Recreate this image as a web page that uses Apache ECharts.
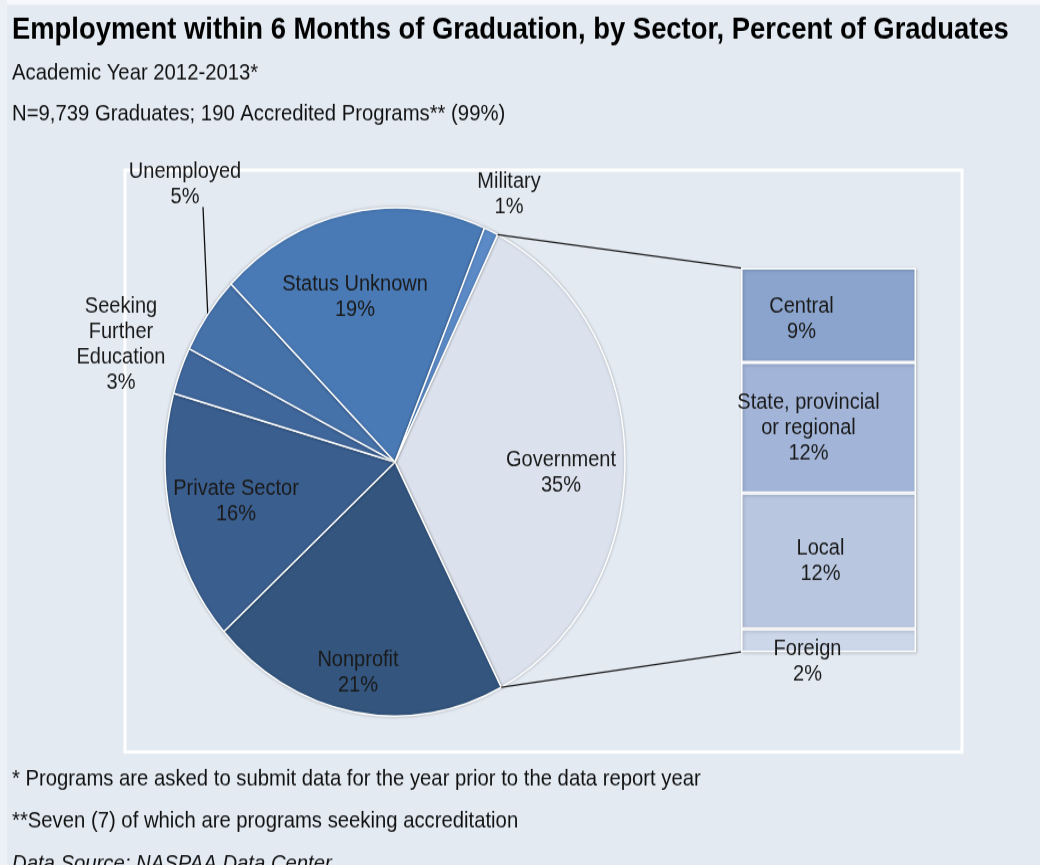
<!DOCTYPE html>
<html><head><meta charset="utf-8">
<script src="https://cdn.jsdelivr.net/npm/echarts@6/dist/echarts.min.js"></script>
<style>
html,body{margin:0;padding:0;background:#e3eaf2;overflow:hidden;}
#wrap{width:1040px;height:865px;overflow:hidden;position:relative;}
#chart{width:1040px;height:783px;transform:scaleY(1.10473);transform-origin:0 0;}
</style></head><body>
<div id="wrap"><div id="chart"></div></div>
<script>
// ---- data ----
const titleText = 'Employment within 6 Months of Graduation, by Sector, Percent of Graduates';
const subtitleLines = ['Academic Year 2012-2013*', 'N=9,739 Graduates; 190 Accredited Programs** (99%)'];
const footnotes = ['* Programs are asked to submit data for the year prior to the data report year',
                   '**Seven (7) of which are programs seeking accreditation'];
const sourceText = 'Data Source: NASPAA Data Center';
const sectors = ['Government', 'Nonprofit', 'Private Sector', 'Seeking\nFurther\nEducation', 'Unemployed', 'Status Unknown', 'Military'];
const sectorPct = [35, 21, 16, 3, 5, 19, 1];
const govLevels = ['Central', 'State, provincial\nor regional', 'Local', 'Foreign'];
const govPct = [8.6, 11.9, 12.4, 2.1];

// ---- styles / layout ----
const K = 865 / 783;               // vertical stretch of the reference picture
const ry = y => y / K;
const FONT = '"Liberation Sans", Arial, Helvetica, sans-serif';
const pieColors = ['#dce2ed', '#33557e', '#3a5e8e', '#40679c', '#4672aa', '#4a7ab5', '#5b8ac6'];
const barColors = ['#8aa4cd', '#a2b5d9', '#b8c6e0', '#cdd7ea'];
const pieLabelAt = [[561, 473], [358, 673], [236, 502], [121, 345], [185, 185], [355, 297], [509, 194]];
const outsideLabels = [3, 4, 6];
const leaderIdx = 4;
const leaderTop = [203, 207];
const barLabelOffset = [[-27, 4], [-20, 0], [-8, 0], [-21, 21]];
const pieCenter = [395, ry(462)];
const pieRadius = 230;
const pieStart = 63.5;

const chart = echarts.init(document.getElementById('chart'), null, {renderer: 'canvas'});
const govTotal = govPct.reduce((a, b) => a + b, 0);

const texts = [];
texts.push({type: 'text', id: 't0', x: 12, y: ry(30), style: {text: titleText, font: 'bold 27.4px ' + FONT, fill: '#000', verticalAlign: 'middle'}});
subtitleLines.forEach((t, i) => texts.push({type: 'text', id: 's' + i, x: 12, y: ry([73, 114][i]), style: {text: t, font: '20.3px ' + FONT, fill: '#111', verticalAlign: 'middle'}}));
footnotes.forEach((t, i) => texts.push({type: 'text', id: 'f' + i, x: 12, y: ry([779, 821][i]), style: {text: t, font: '20.3px ' + FONT, fill: '#111', verticalAlign: 'middle'}}));
texts.push({type: 'text', id: 'src', x: 12, y: ry(864), style: {text: sourceText, font: 'italic 20.3px ' + FONT, fill: '#111', verticalAlign: 'middle'}});

const decor = [
  {type: 'rect', id: 'topstrip', shape: {x: 0, y: 0, width: 1040, height: ry(5)}, style: {fill: '#f6f8fb'}, z: -10},
  {type: 'rect', id: 'leftstrip', shape: {x: 0, y: 0, width: 7, height: 783}, style: {fill: '#edf1f6'}, z: -10},
  {type: 'rect', id: 'plotbox', shape: {x: 125, y: ry(170), width: 837, height: ry(752) - ry(170)}, style: {fill: 'none', stroke: '#ffffff', lineWidth: 3}, z: -5}
];

const option = {
  animation: false,
  backgroundColor: '#e3eaf2',
  textStyle: {fontFamily: FONT},
  grid: {left: 741, top: ry(268), width: 175, height: ry(652) - ry(268)},
  xAxis: {type: 'category', data: ['Government'], show: false},
  yAxis: {type: 'value', min: 0, max: govTotal, inverse: true, show: false},
  graphic: decor.concat(texts),
  series: [
    {
      type: 'pie', silent: true,
      center: pieCenter, radius: pieRadius,
      startAngle: pieStart, clockwise: true, avoidLabelOverlap: false,
      itemStyle: {borderColor: '#ffffff', borderWidth: 1.5, shadowBlur: 3, shadowColor: 'rgba(0,0,0,0.22)'},
      label: {show: true, formatter: '{b}\n{c}%', fontSize: 20, lineHeight: 23, color: '#1a1a1a', fontFamily: FONT},
      labelLine: {length: 10, length2: 10, lineStyle: {color: '#111', width: 1.3}},
      data: sectors.map((n, i) => ({
        name: n, value: sectorPct[i],
        itemStyle: {color: pieColors[i]},
        label: {position: outsideLabels.includes(i) ? 'outside' : 'inside'},
        labelLine: {show: i === leaderIdx}
      })),
      labelLayout: function (p) {
        const at = pieLabelAt[p.dataIndex];
        const out = {x: at[0], y: ry(at[1]), align: 'center', verticalAlign: 'middle'};
        if (p.dataIndex === leaderIdx) {
          let e;
          if (p.labelLinePoints && p.labelLinePoints[0]) {
            e = p.labelLinePoints[0];
          } else {
            const tot = sectorPct.reduce((a, b) => a + b, 0);
            let before = 0; for (let k = 0; k < leaderIdx; k++) before += sectorPct[k];
            const a = (pieStart - 360 * (before + sectorPct[leaderIdx] / 2) / tot) * Math.PI / 180;
            e = [pieCenter[0] + pieRadius * Math.cos(a), pieCenter[1] - pieRadius * Math.sin(a)];
          }
          const t = [leaderTop[0], ry(leaderTop[1])];
          out.labelLinePoints = [e, [(e[0] + t[0]) / 2, (e[1] + t[1]) / 2], t];
        }
        return out;
      }
    }
  ].concat(govLevels.map((n, i) => ({
    type: 'bar', name: n, stack: 'gov', silent: true,
    data: [govPct[i]], barWidth: '100%',
    itemStyle: {color: barColors[i], borderColor: '#ffffff', borderWidth: 1.5,
      shadowBlur: 3, shadowOffsetX: 1, shadowOffsetY: 1, shadowColor: 'rgba(0,0,0,0.22)'},
    label: {show: true, position: 'inside', formatter: n + '\n' + Math.round(govPct[i]) + '%',
      offset: [barLabelOffset[i][0], ry(barLabelOffset[i][1])],
      fontSize: 20, lineHeight: 23, color: '#1a1a1a', fontFamily: FONT}
  })))
};
chart.setOption(option);

// connector lines between the pie's Government slice and the breakdown bar
const sum = sectorPct.reduce((a, b) => a + b, 0);
const a0 = pieStart * Math.PI / 180;
const a1 = (pieStart - 360 * sectorPct[0] / sum) * Math.PI / 180;
const pTop = [pieCenter[0] + pieRadius * Math.cos(a0), pieCenter[1] - pieRadius * Math.sin(a0)];
const pBot = [pieCenter[0] + pieRadius * Math.cos(a1), pieCenter[1] - pieRadius * Math.sin(a1)];
const gridRect = chart.getModel().getComponent('grid').coordinateSystem.getRect();
const barTopY = chart.convertToPixel({yAxisIndex: 0}, 0);
const barBotY = chart.convertToPixel({yAxisIndex: 0}, govTotal);
chart.setOption({
  graphic: [
    {type: 'line', id: 'conTop', shape: {x1: pTop[0], y1: pTop[1], x2: gridRect.x, y2: barTopY}, style: {stroke: '#1a1a1a', lineWidth: 1.3}, z: 10},
    {type: 'line', id: 'conBot', shape: {x1: pBot[0], y1: pBot[1], x2: gridRect.x, y2: barBotY}, style: {stroke: '#1a1a1a', lineWidth: 1.3}, z: 10}
  ]
});
</script>
</body></html>
